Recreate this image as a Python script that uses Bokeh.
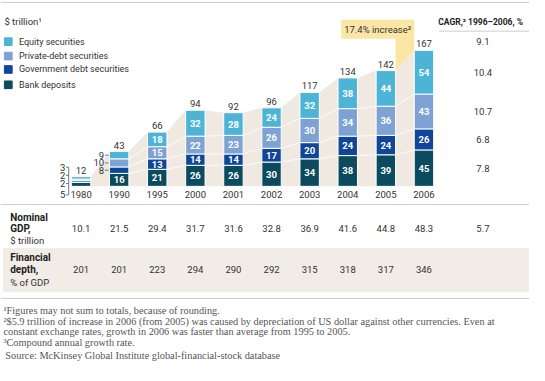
from bokeh.plotting import figure
from bokeh.models import Range1d, ColumnDataSource
from bokeh.core.properties import value
from bokeh.embed import file_html
from bokeh.resources import INLINE

# ---------------- data ----------------
years = ["1980", "1990", "1995", "2000", "2001", "2002", "2003", "2004", "2005", "2006"]
bank = [5, 16, 21, 26, 26, 30, 34, 38, 39, 45]
gov = [2, 8, 13, 14, 14, 17, 20, 24, 24, 26]
priv = [2, 10, 15, 22, 23, 26, 30, 34, 36, 43]
equity = [3, 9, 18, 32, 28, 24, 32, 38, 44, 54]
totals = [12, 43, 66, 94, 92, 96, 117, 134, 142, 167]
gdp = ["10.1", "21.5", "29.4", "31.7", "31.6", "32.8", "36.9", "41.6", "44.8", "48.3"]
depth = ["201", "201", "223", "294", "290", "292", "315", "318", "317", "346"]
cagr_total = "9.1"
cagr_series = ["7.8", "6.8", "10.7", "10.4"]  # bank, gov, priv, equity
cagr_gdp = "5.7"
series_names = ["Bank deposits", "Government debt securities", "Private-debt securities", "Equity securities"]
colors = ["#0b4a5f", "#0f4697", "#7ea2d3", "#4db4d6"]

# ---------------- geometry ----------------
W, H = 529, 365
RW, RH = 545, 381
X0, DX = 83.0, 39.25   # reference pixel centre of first bar, spacing
BASE, K = 194.0, 0.845  # baseline pixel, pixels per $ trillion
BW = 20.0 / DX
HW = BW / 2

FONT = "Roboto"
SERIF = "Liberation Serif"
TXT = "#333333"
BEIGE = "#efe9e2"
YELLOW = "#fbe6a6"
FS = "9.5px"


def vx(px):
    return (px - X0) / DX


def vy(py):
    return (BASE - py) / K


p = figure(width=W, height=H, x_range=Range1d(vx(0), vx(RW)), y_range=Range1d(vy(RH), vy(0)),
           output_backend="svg", toolbar_location=None, min_border=0,
           x_axis_location=None, y_axis_location=None)
p.grid.visible = False
p.outline_line_color = None
p.background_fill_color = "white"
p.border_fill_color = "white"
p.extra_x_ranges = {"px": Range1d(0, RW)}
p.extra_y_ranges = {"py": Range1d(RH, 0)}

idx = list(range(len(years)))
c1 = [b for b in bank]
c2 = [b + g for b, g in zip(bank, gov)]
c3 = [b + g + q for b, g, q in zip(bank, gov, priv)]
c4 = [b + g + q + e for b, g, q, e in zip(bank, gov, priv, equity)]
n = len(years)

# table band
p.quad(left=3, right=RW, bottom=304, top=259, color="#f1ece6",
       x_range_name="px", y_range_name="py")

# rules
p.multi_line(xs=[[0, RW], [0, RW], [0, RW], [452, RW]], ys=[[2, 2], [213, 213], [311, 311], [32, 32]],
             line_color="#cccccc", line_width=1, x_range_name="px", y_range_name="py")

# beige area behind bars
axs = [HW, HW]
ays = [0, c4[0]]
for i in range(1, n - 1):
    axs += [i - HW, i + HW]
    ays += [c4[i], c4[i]]
axs += [n - 1 - HW, n - 1 - HW]
ays += [c4[-1], 0]
p.patch(axs, ays, color=BEIGE, line_color=None)

# connector lines
cxs, cys = [], []
for i in range(1, n - 1):
    for c in (c1, c2, c3):
        cxs.append([i + HW, i + 1 - HW])
        cys.append([c[i], c[i + 1]])
p.multi_line(cxs, cys, line_color="white", line_width=1, line_alpha=0.8)

# yellow annotation
yb_top, yb_bot = vy(20), vy(40)
ax_l = vx(351)
p.patch([ax_l, n - 1 - HW, n - 1 - HW, n - 2 + HW, n - 2 + HW, ax_l],
        [yb_top, yb_top, c4[-1], c4[-2], yb_bot, yb_bot], color=YELLOW, line_color=None)
p.text(x=[(ax_l + n - 1 - HW) / 2], y=[(yb_top + yb_bot) / 2], text=["17.4% increase\u00b2"],
       text_font=value(FONT), text_font_size=FS, text_color=TXT,
       text_align="center", text_baseline="middle")

# bars
src = ColumnDataSource(dict(idx=idx, bank=bank, gov=gov, priv=priv, equity=equity))
p.vbar_stack(["bank", "gov", "priv", "equity"], x="idx", width=BW, color=colors,
             line_color="white", line_width=1, source=src)

# totals
p.text(x=idx, y=c4, text=[str(t) for t in totals], text_font=value(FONT), text_font_size=FS,
       text_color=TXT, text_align="center", text_baseline="bottom", y_offset=-3)

# inside labels
lx, ly, lt = [], [], []
segs = [(bank, [0] * n, c1), (gov, c1, c2), (priv, c2, c3), (equity, c3, c4)]
for i in range(n):
    for k, (vals, lo, hi) in enumerate(segs):
        inside = i >= 2 or (i == 1 and k == 0)
        if inside:
            lx.append(i)
            ly.append((lo[i] + hi[i]) / 2)
            lt.append(str(vals[i]))
p.text(x=lx, y=ly, text=lt, text_font=value(FONT), text_font_size=FS, text_font_style="bold",
       text_color="white", text_align="center", text_baseline="middle")

# 1990 outside labels
ox, oy, ot, lxs, lys = [], [], [], [], []
for k in (1, 2, 3):
    vals, lo, hi = segs[k]
    mid = (lo[1] + hi[1]) / 2
    ox.append(1 - HW - 0.14)
    oy.append(mid)
    ot.append(str(vals[1]))
    lxs.append([1 - HW - 0.12, 1 - HW - 0.02])
    lys.append([mid, mid])
p.text(x=ox, y=oy, text=ot, text_font=value(FONT), text_font_size=FS, text_color=TXT,
       text_align="right", text_baseline="middle")
p.multi_line(lxs, lys, line_color="#777777", line_width=1)

# 1980 outside labels (bracket)
lab_py = [203, 191, 182.5, 174]
bx = 0 - HW - 0.07
p.text(x=[0 - HW - 0.16] * 4, y=lab_py, text=[str(s[0][0]) for s in segs], text_font=value(FONT),
       text_font_size=FS, text_color=TXT, text_align="right", text_baseline="middle",
       y_range_name="py")
bxs = [[0 - HW - 0.14, bx] for _ in lab_py] + [[bx, bx]]
bys = [[y, y] for y in lab_py] + [[lab_py[-1], lab_py[0]]]
p.multi_line(bxs, bys, line_color="#777777", line_width=1, y_range_name="py")

# year labels
p.text(x=idx, y=[203] * n, text=years, text_font=value(FONT), text_font_size=FS, text_color=TXT,
       text_align="center", text_baseline="middle", y_range_name="py")

# CAGR column
p.text(x=[451], y=[22], text=["CAGR,\u00b3 1996\u20132006, %"], text_font=value(FONT),
       text_font_size="8.5px", text_font_style="bold", text_color="#222222",
       text_align="left", text_baseline="middle", x_range_name="px", y_range_name="py")
cg_y = [c4[-1]] + [(segs[k][1][-1] + segs[k][2][-1]) / 2 for k in range(4)]
p.text(x=[497] * 5, y=cg_y, text=[cagr_total] + cagr_series, text_font=value(FONT),
       text_font_size=FS, text_color=TXT, text_align="center", text_baseline="middle",
       y_offset=[-9, 0, 0, 0, 0], x_range_name="px")

# legend
leg_y = [88, 72, 58, 43]
p.quad(left=[4] * 4, right=[12] * 4, top=[y - 4 for y in leg_y], bottom=[y + 4 for y in leg_y],
       color=colors, x_range_name="px", y_range_name="py")
p.text(x=[19] * 4, y=leg_y, text=series_names, text_font=value(FONT), text_font_size="9px",
       text_color=TXT, text_align="left", text_baseline="middle", x_range_name="px", y_range_name="py")
p.text(x=[4], y=[22], text=["$ trillion\u00b9"], text_font=value(FONT), text_font_size=FS,
       text_color=TXT, text_align="left", text_baseline="middle", x_range_name="px", y_range_name="py")

# table rows
p.text(x=[10, 10, 10, 10], y=[227, 238, 268, 281], text=["Nominal", "GDP,", "Financial", "depth,"],
       text_font=value(FONT), text_font_size="10px", text_font_style="bold", text_color="#222222",
       text_align="left", text_baseline="middle", x_range_name="px", y_range_name="py")
p.text(x=[10, 10], y=[250, 294], text=["$ trillion", "% of GDP"],
       text_font=value(FONT), text_font_size=FS, text_color=TXT,
       text_align="left", text_baseline="middle", x_range_name="px", y_range_name="py")
p.text(x=idx, y=[238] * n, text=gdp, text_font=value(FONT), text_font_size=FS, text_color=TXT,
       text_align="center", text_baseline="middle", y_range_name="py")
p.text(x=[497], y=[238], text=[cagr_gdp], text_font=value(FONT), text_font_size=FS, text_color=TXT,
       text_align="center", text_baseline="middle", x_range_name="px", y_range_name="py")
p.text(x=idx, y=[281] * n, text=depth, text_font=value(FONT), text_font_size=FS, text_color=TXT,
       text_align="center", text_baseline="middle", y_range_name="py")

# footnotes
notes = ["\u00b9Figures may not sum to totals, because of rounding.",
         "\u00b2$5.9 trillion of increase in 2006 (from 2005) was caused by depreciation of US dollar against other currencies. Even at",
         " constant exchange rates, growth in 2006 was faster than average from 1995 to 2005.",
         "\u00b3Compound annual growth rate."]
p.text(x=[3] * 4, y=[324, 335, 346, 357], text=notes, text_font=value(SERIF), text_font_size="10.3px",
       text_color="#555555", text_align="left", text_baseline="middle", x_range_name="px", y_range_name="py")
p.text(x=[5], y=[371], text=["Source: McKinsey Global Institute global-financial-stock database"],
       text_font=value(SERIF), text_font_size="10.3px", text_color="#555555", text_align="left",
       text_baseline="middle", x_range_name="px", y_range_name="py")

open("out.html", "w").write(file_html(p, INLINE))
